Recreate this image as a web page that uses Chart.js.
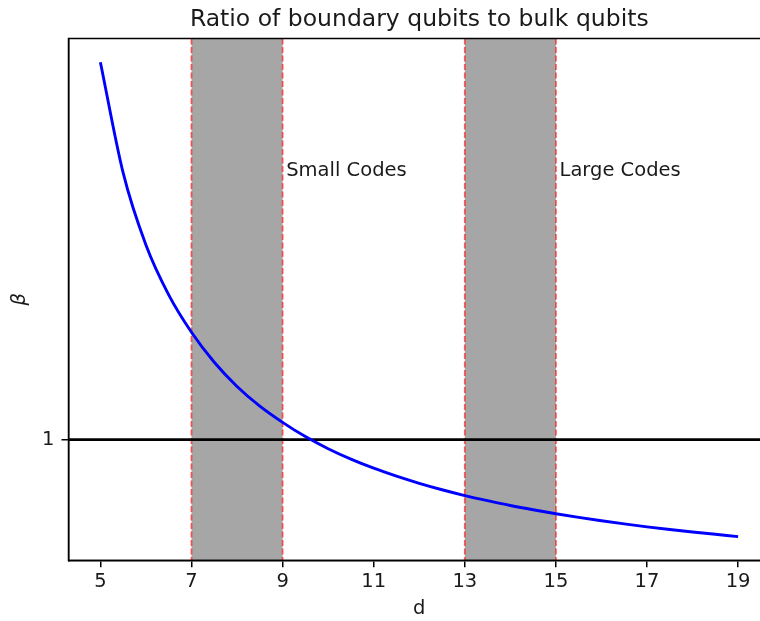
<!DOCTYPE html>
<html>
<head>
<meta charset="utf-8">
<script src="https://cdn.jsdelivr.net/npm/chart.js@4"></script>
<style>
    html, body { margin: 0; padding: 0; background: #fff; overflow: hidden; }
    #wrap { width: 800px; height: 621px; }
</style>
</head>
<body>
<div id="wrap"><canvas id="ratioChart" width="800" height="621"></canvas></div>
<script>
// Curve values
const dValues = [5, 5.5, 6, 6.5, 7, 7.5, 8, 8.5, 9, 9.5, 10, 10.5, 11, 11.5, 12,
    12.5, 13, 13.5, 14, 14.5, 15, 15.5, 16, 16.5, 17, 17.5, 18, 18.5, 19];
const betaValues = [3.279, 2.610, 2.175, 1.874, 1.648, 1.467, 1.321, 1.202, 1.104, 1.018,
    0.945, 0.882, 0.827, 0.779, 0.736, 0.697, 0.662, 0.631, 0.602, 0.576,
    0.552, 0.530, 0.510, 0.491, 0.473, 0.457, 0.442, 0.428, 0.414];

const xTicks = [5, 7, 9, 11, 13, 15, 17, 19];
const yTicks = [1];
const xRange = [4.3, 19.7];
const yRange = [0.271, 3.422];
const thresholdY = 1;

const bands = [[7, 9], [13, 15]];
const bandLabels = ['Small Codes', 'Large Codes'];
const bandLabelX = [9.08, 15.08];
const bandLabelY = 2.62;

const FONT = 'DejaVu Sans';

const decorPlugin = {
    id: 'decor',
    beforeDatasetsDraw(chart) {
        const ctx = chart.ctx;
        const area = chart.chartArea;
        const x = chart.scales.x;
        ctx.save();
        // shaded regions
        bands.forEach(b => {
            const x0 = x.getPixelForValue(b[0]);
            const x1 = x.getPixelForValue(b[1]);
            ctx.fillStyle = '#a6a6a6';
            ctx.fillRect(x0, area.top, x1 - x0, area.bottom - area.top);
        });
        // dashed edges
        ctx.strokeStyle = 'rgba(255, 30, 30, 0.7)';
        ctx.lineWidth = 1.8;
        ctx.setLineDash([6, 2.5]);
        bands.forEach(b => {
            b.forEach(v => {
                const px = x.getPixelForValue(v);
                ctx.beginPath();
                ctx.moveTo(px, area.top);
                ctx.lineTo(px, area.bottom);
                ctx.stroke();
            });
        });
        ctx.restore();
    },
    afterDraw(chart) {
        const ctx = chart.ctx;
        const area = chart.chartArea;
        const x = chart.scales.x;
        const y = chart.scales.y;
        ctx.save();
        // frame
        ctx.strokeStyle = '#000';
        ctx.lineWidth = 1.5;
        ctx.strokeRect(area.left, area.top, area.right - area.left, area.bottom - area.top);
        // band labels
        ctx.fillStyle = '#1a1a1a';
        ctx.font = '19.5px "' + FONT + '"';
        ctx.textAlign = 'left';
        ctx.textBaseline = 'middle';
        bandLabels.forEach((t, i) => {
            ctx.fillText(t, x.getPixelForValue(bandLabelX[i]), y.getPixelForValue(bandLabelY));
        });
        // title
        ctx.font = '23.5px "' + FONT + '"';
        ctx.textAlign = 'center';
        ctx.textBaseline = 'alphabetic';
        ctx.fillText('Ratio of boundary qubits to bulk qubits', (area.left + area.right) / 2, 25.5);
        ctx.restore();
    }
};

new Chart(document.getElementById('ratioChart').getContext('2d'), {
    type: 'line',
    data: {
        datasets: [{
            label: 'beta',
            data: dValues.map((d, i) => ({ x: d, y: betaValues[i] })),
            borderColor: '#0000ff',
            borderWidth: 2.9,
            pointRadius: 0,
            cubicInterpolationMode: 'monotone',
            fill: false,
            order: 1
        }, {
            label: 'threshold',
            data: xRange.map(v => ({ x: v, y: thresholdY })),
            borderColor: '#000000',
            borderWidth: 2.7,
            pointRadius: 0,
            fill: false,
            order: 2
        }]
    },
    plugins: [decorPlugin],
    options: {
        responsive: false,
        animation: false,
        layout: { padding: { top: 38.5, right: 30, left: 0, bottom: 0 } },
        plugins: {
            legend: { display: false },
            tooltip: { enabled: false }
        },
        scales: {
            x: {
                type: 'linear',
                min: xRange[0],
                max: xRange[1],
                afterBuildTicks: axis => { axis.ticks = xTicks.map(v => ({ value: v })); },
                afterFit: scale => { scale.height = 60.7; },
                grid: { drawOnChartArea: false, drawTicks: true, tickLength: 7, lineWidth: 1.5, color: '#000' },
                border: { color: '#000', width: 1.5 },
                ticks: {
                    color: '#1a1a1a',
                    padding: 3,
                    maxRotation: 0,
                    font: { family: FONT, size: 19.5 }
                },
                title: {
                    display: true,
                    text: 'd',
                    color: '#1a1a1a',
                    padding: { top: 0, bottom: 0 },
                    font: { family: FONT, size: 19.5 }
                }
            },
            y: {
                type: 'linear',
                min: yRange[0],
                max: yRange[1],
                afterBuildTicks: axis => { axis.ticks = yTicks.map(v => ({ value: v })); },
                afterFit: scale => { scale.width = 68.5; },
                grid: { drawOnChartArea: false, drawTicks: true, tickLength: 7, lineWidth: 1.5, color: '#000' },
                border: { color: '#000', width: 1.5 },
                ticks: {
                    color: '#1a1a1a',
                    padding: 7,
                    font: { family: FONT, size: 19.5 }
                },
                title: {
                    display: true,
                    text: 'β',
                    color: '#1a1a1a',
                    padding: { top: 8, bottom: 0 },
                    font: { family: FONT, size: 19.5, style: 'italic' }
                }
            }
        }
    }
});
</script>
</body>
</html>
